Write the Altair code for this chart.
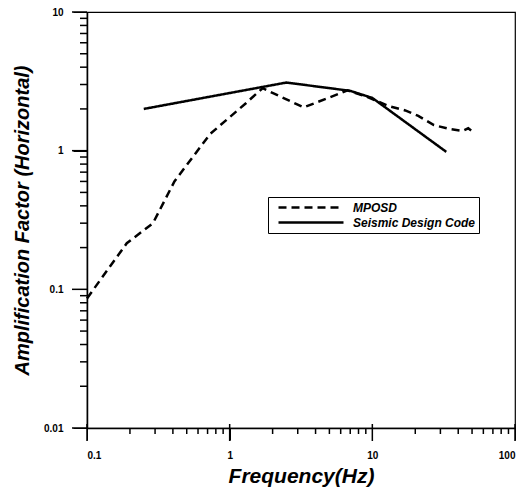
import altair as alt
import pandas as pd

# ---- data ----
series_names = ["MPOSD", "Seismic Design Code"]

mposd_freq = [0.1, 0.19, 0.29, 0.41, 0.73, 1.3, 1.7, 3.3, 6.7, 9.1, 13, 17, 21, 27, 35, 43, 47, 50]
mposd_amp = [0.086, 0.215, 0.30, 0.60, 1.32, 2.2, 2.82, 2.05, 2.72, 2.45, 2.1, 1.95, 1.78, 1.53, 1.43, 1.39, 1.45, 1.38]

code_freq = [0.25, 2.5, 7.0, 10.0, 33.0]
code_amp = [2.0, 3.1, 2.7, 2.4, 0.98]

x_major = [0.1, 1, 10, 100]
y_major = [0.01, 0.1, 1, 10]
minor_mult = [2, 3, 4, 5, 6, 7, 8, 9]
x_minor = [m * v for v in x_major[:-1] for m in minor_mult]
y_minor = [m * v for v in y_major[:-1] for m in minor_mult]

rows = []
for f, a in zip(mposd_freq, mposd_amp):
    rows.append({"series": series_names[0], "freq": f, "amp": a})
for f, a in zip(code_freq, code_amp):
    rows.append({"series": series_names[1], "freq": f, "amp": a})
df = pd.DataFrame(rows)

PLOT_W, PLOT_H = 428, 416
FONT = "Liberation Sans"

x_scale = alt.Scale(type="log", domain=[0.1, 100], nice=False)
y_scale = alt.Scale(type="log", domain=[0.01, 10], nice=False)

common = dict(grid=False, tickColor="black", domainColor="black", labelColor="black",
              titleColor="black", labelFont=FONT, titleFont=FONT, labelFontSize=10,
              labelFontWeight="bold", domainWidth=1.5)

lines = alt.Chart(df).mark_line(color="black", strokeWidth=2.5).encode(
    x=alt.X("freq:Q", scale=x_scale,
            axis=alt.Axis(values=x_major, format="~g", tickSize=12, labelPadding=10,
                          orient="bottom",
                          title="Frequency(Hz)", titleFontSize=21, titleFontStyle="italic",
                          titleFontWeight="bold", titleY=54, titleX=214,
                          titleBaseline="alphabetic", titleAlign="center", **common)),
    y=alt.Y("amp:Q", scale=y_scale,
            axis=alt.Axis(values=y_major, format="~g", tickSize=14, labelPadding=10,
                          orient="left",
                          title="Amplification Factor (Horizontal)", titleFontSize=20,
                          titleFontStyle="italic", titleFontWeight="bold",
                          titleX=-65, titleY=208, titleAngle=270,
                          titleBaseline="middle", titleAlign="center", **common)),
    strokeDash=alt.StrokeDash(
        "series:N",
        scale=alt.Scale(domain=series_names, range=[[8, 5], [1, 0]]),
        legend=alt.Legend(title=None, orient="none", legendX=181, legendY=185,
                          symbolType="stroke", symbolSize=4225, symbolStrokeWidth=2.5,
                          symbolStrokeColor="black", clipHeight=15, padding=3,
                          symbolOffset=6, labelOffset=8, strokeColor="black",
                          fillColor="white", labelFont=FONT, labelFontSize=12,
                          labelFontStyle="italic", labelFontWeight="bold",
                          labelColor="black", rowPadding=0, labelLimit=300),
    ),
)

# tick marks drawn through the same log scales
x_major_df = pd.DataFrame({"freq": x_major})
x_minor_df = pd.DataFrame({"freq": x_minor})
y_major_df = pd.DataFrame({"amp": y_major})
y_minor_df = pd.DataFrame({"amp": y_minor})

x_major_ticks = alt.Chart(x_major_df).mark_rule(color="black", strokeWidth=1.5).encode(
    x=alt.X("freq:Q", scale=x_scale),
    y=alt.value(PLOT_H - 4), y2=alt.value(PLOT_H + 13),
)
x_minor_ticks = alt.Chart(x_minor_df).mark_rule(color="black", strokeWidth=1.5).encode(
    x=alt.X("freq:Q", scale=x_scale),
    y=alt.value(PLOT_H), y2=alt.value(PLOT_H + 6),
)
y_major_ticks = alt.Chart(y_major_df).mark_rule(color="black", strokeWidth=1.5).encode(
    y=alt.Y("amp:Q", scale=y_scale),
    x=alt.value(-15), x2=alt.value(0),
)
y_minor_ticks = alt.Chart(y_minor_df).mark_rule(color="black", strokeWidth=1.5).encode(
    y=alt.Y("amp:Q", scale=y_scale),
    x=alt.value(-7), x2=alt.value(0),
)

chart = alt.layer(
    lines, x_major_ticks, x_minor_ticks, y_major_ticks, y_minor_ticks
).properties(
    width=PLOT_W, height=PLOT_H,
    autosize=alt.AutoSizeParams(type="none"),
    padding={"left": 79, "top": 4, "right": 4, "bottom": 60},
).configure_view(
    stroke="black", strokeWidth=1.2
)

chart.save("out.html", embed_options={"renderer": "svg", "actions": False})
